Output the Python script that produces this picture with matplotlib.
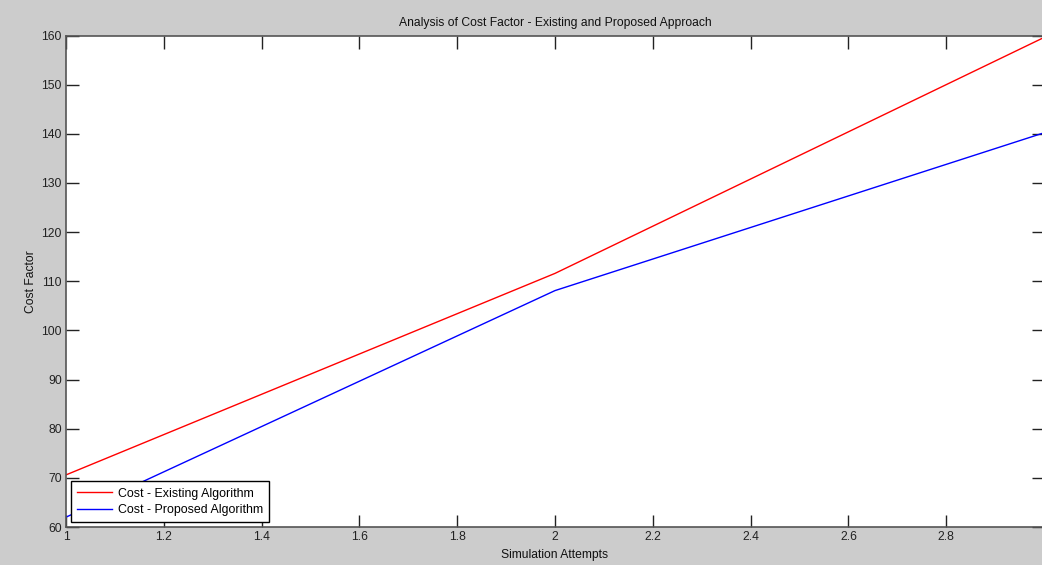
import matplotlib
matplotlib.use("Agg")
import matplotlib.pyplot as plt

attempts = [1, 2, 3]
cost_existing = [70.6, 111.6, 159.6]
cost_proposed = [62.0, 108.1, 140.2]
series_labels = ["Cost - Existing Algorithm", "Cost - Proposed Algorithm"]
x_ticks = [1, 1.2, 1.4, 1.6, 1.8, 2, 2.2, 2.4, 2.6, 2.8]
x_tick_labels = ["1", "1.2", "1.4", "1.6", "1.8", "2", "2.2", "2.4", "2.6", "2.8"]
y_ticks = [60, 70, 80, 90, 100, 110, 120, 130, 140, 150, 160]

plt.rcParams['font.family'] = ['Liberation Sans', 'DejaVu Sans']

W, H = 1042, 565
fig = plt.figure(figsize=(W / 100, H / 100), dpi=100, facecolor="#cccccc")
left, right, top, bottom = 66, 1044, 35.5, 527
ax = fig.add_axes([left / W, 1 - bottom / H, (right - left) / W, (bottom - top) / H])
ax.set_facecolor("white")

ax.plot(attempts, cost_existing, color="#ff0000", lw=1.0, label=series_labels[0])
ax.plot(attempts, cost_proposed, color="#0000ff", lw=1.0, label=series_labels[1])

ax.set_xlim(1, 3)
ax.set_ylim(60, 160)
ax.set_xticks(x_ticks)
ax.set_xticklabels(x_tick_labels)
ax.set_yticks(y_ticks)
ax.tick_params(direction="in", length=9, width=1, top=True, right=True,
               labelsize=8.7, colors="#222222", pad=3)
for s in ax.spines.values():
    s.set_color("#555555")
    s.set_linewidth(1.2)

ax.set_title("Analysis of Cost Factor - Existing and Proposed Approach",
             fontsize=8.7, pad=7, color="#111111")
ax.set_xlabel("Simulation Attempts", fontsize=8.7, labelpad=4, color="#111111")
ax.set_ylabel("Cost Factor", fontsize=8.7, labelpad=3, color="#111111")

leg = ax.legend(loc="lower left", fontsize=8.9, frameon=True, fancybox=False,
                borderaxespad=0.4, handlelength=2.8, handletextpad=0.5,
                borderpad=0.5, labelspacing=0.35)
leg.get_frame().set_edgecolor("black")
leg.get_frame().set_linewidth(1.0)
leg.get_frame().set_alpha(1)

fig.savefig("out.png", dpi=100, facecolor=fig.get_facecolor())
